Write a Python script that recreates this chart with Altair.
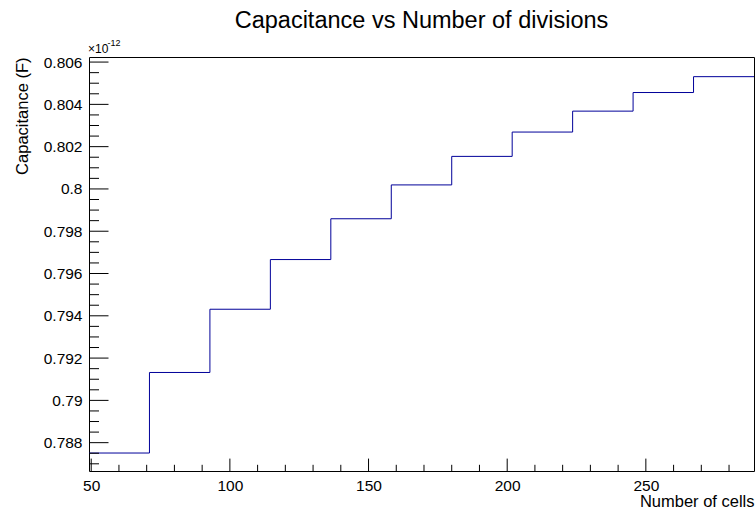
import altair as alt
import pandas as pd

# Histogram bin edges (number of cells) and bin contents (capacitance, x1e-12 F)
bin_edges = [49.2, 71.0, 92.8, 114.6, 136.4, 158.2, 180.0, 201.8, 223.6, 245.4, 267.2, 289.0]
capacitance = [0.78751, 0.79132, 0.79431, 0.79666, 0.79859, 0.80019,
               0.80154, 0.80269, 0.80368, 0.80456, 0.80531]

# Axis ranges and tick positions
x_domain = [49.2, 289.0]
y_domain = [0.78666, 0.80624]
x_major = [50, 100, 150, 200, 250]
x_minor = [60, 70, 80, 90, 110, 120, 130, 140, 160, 170, 180, 190,
           210, 220, 230, 240, 260, 270, 280]
y_major = [0.788, 0.790, 0.792, 0.794, 0.796, 0.798, 0.800, 0.802, 0.804, 0.806]
y_minor = [0.787, 0.7875, 0.7885, 0.789, 0.7895, 0.7905, 0.791, 0.7915,
           0.7925, 0.793, 0.7935, 0.7945, 0.795, 0.7955, 0.7965, 0.797, 0.7975,
           0.7985, 0.799, 0.7995, 0.8005, 0.801, 0.8015, 0.8025, 0.803, 0.8035,
           0.8045, 0.805, 0.8055]

title_text = "Capacitance vs Number of divisions"

FONT = "Liberation Sans"
W, H = 665, 414

# step outline: one point per left edge, plus the closing right edge
hist = pd.DataFrame({
    "cells": bin_edges,
    "cap": capacitance + [capacitance[-1]],
})

x_scale = alt.Scale(domain=x_domain, nice=False, zero=False)
y_scale = alt.Scale(domain=y_domain, nice=False, zero=False)

x_axis = alt.Axis(values=x_major, ticks=False, grid=False, domain=False,
                  labelFont=FONT, labelFontSize=15.5, labelColor="black",
                  labelPadding=7, labelFlush=False,
                  title="Number of cells", titleFont=FONT, titleFontSize=16.5,
                  titleFontWeight="normal", titleColor="black",
                  titleX=W, titleY=35, titleAlign="right",
                  titleBaseline="alphabetic")
y_axis = alt.Axis(values=y_major, format=".3~f", ticks=False, grid=False,
                  domain=False, labelFont=FONT, labelFontSize=15.5,
                  labelColor="black", labelPadding=7, labelFlush=False,
                  title="Capacitance (F)", titleFont=FONT, titleFontSize=16.5,
                  titleFontWeight="normal", titleColor="black",
                  titleAngle=270, titleX=-62, titleY=0, titleAlign="right",
                  titleBaseline="alphabetic")

line = alt.Chart(hist).mark_line(
    interpolate="step-after", color="#000099", strokeWidth=1, clip=True
).encode(
    x=alt.X("cells:Q", scale=x_scale, axis=x_axis),
    y=alt.Y("cap:Q", scale=y_scale, axis=y_axis),
)


def x_ticks(values, length):
    return alt.Chart(pd.DataFrame({"cells": values})).mark_rule(
        color="black", strokeWidth=1
    ).encode(
        x=alt.X("cells:Q", scale=x_scale, axis=x_axis),
        y=alt.value(H), y2=alt.value(H - length),
    )


def y_ticks(values, length):
    return alt.Chart(pd.DataFrame({"cap": values})).mark_rule(
        color="black", strokeWidth=1
    ).encode(
        y=alt.Y("cap:Q", scale=y_scale, axis=y_axis),
        x=alt.value(0), x2=alt.value(length),
    )


def label(text, x, y, size, align="left"):
    return alt.Chart(pd.DataFrame({"t": [text]})).mark_text(
        align=align, baseline="alphabetic", font=FONT, fontSize=size,
        color="black", fill="black"
    ).encode(x=alt.value(x), y=alt.value(y), text="t:N")


chart = alt.layer(
    line,
    x_ticks(x_major, 12.4), x_ticks(x_minor, 6.2),
    y_ticks(y_major, 19.5), y_ticks(y_minor, 10),
    label("×10", -1, -4, 12),            # exponent marker above the y axis
    label("-12", 18.5, -11, 9),
    label(title_text, W / 2, -29, 23.5, align="center"),
).properties(
    width=W, height=H,
    autosize=alt.AutoSizeParams(type="none"),
    padding={"left": 89, "top": 57, "right": 1, "bottom": 40},
).configure(
    background="white"
).configure_view(
    stroke="black", strokeWidth=1
)

chart.save("out.html", embed_options={"renderer": "svg", "actions": False})
